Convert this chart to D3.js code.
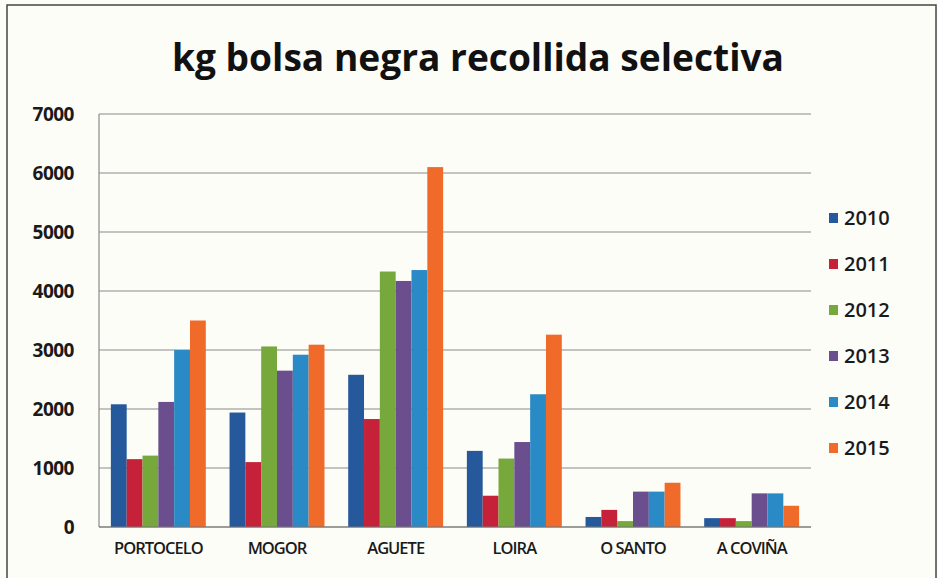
<!DOCTYPE html>
<html>
<head>
<meta charset="utf-8">
<script src="https://cdn.jsdelivr.net/npm/d3@7"></script>
<style>
  body { margin: 0; background: #fdfdf8; }
  svg { display: block; font-family: "Open Sans", "Liberation Sans", sans-serif; }
</style>
</head>
<body>
<svg id="chart"></svg>
<script>
// kg bolsa negra, por parroquia e ano
var categories = ["PORTOCELO", "MOGOR", "AGUETE", "LOIRA", "O SANTO", "A COVIÑA"];
var years = ["2010", "2011", "2012", "2013", "2014", "2015"];
var s2010 = [2080, 1940, 2580, 1290, 170, 150];
var s2011 = [1150, 1100, 1830, 530, 290, 150];
var s2012 = [1210, 3060, 4330, 1160, 100, 100];
var s2013 = [2120, 2650, 4170, 1440, 600, 570];
var s2014 = [3000, 2920, 4355, 2250, 600, 570];
var s2015 = [3500, 3090, 6100, 3260, 750, 360];
var yTicks = [0, 1000, 2000, 3000, 4000, 5000, 6000, 7000];
var colors = ["#25599c", "#c52239", "#77a83b", "#6a4e8e", "#2a8ac6", "#f06a2a"];

var series = [s2010, s2011, s2012, s2013, s2014, s2015];

var width = 938, height = 578;
var svg = d3.select("#chart").attr("width", width).attr("height", height);

// frame of the scanned sheet
svg.append("rect").attr("x", 7).attr("y", 5).attr("width", 929).attr("height", 585)
  .attr("fill", "#fdfdf8").attr("stroke", "#444").attr("stroke-width", 1.5);

var plot = {left: 99, right: 811, top: 114, bottom: 527};

var x = d3.scaleBand().domain(categories).range([plot.left, plot.right])
  .paddingInner(0.2).paddingOuter(0.1);
var xi = d3.scaleBand().domain(years).range([0, x.bandwidth()]);
var y = d3.scaleLinear().domain([0, 7000]).range([plot.bottom, plot.top]);

// gridlines
svg.append("g").selectAll("line").data(yTicks).enter().append("line")
  .attr("x1", plot.left).attr("x2", plot.right)
  .attr("y1", d => y(d)).attr("y2", d => y(d))
  .attr("stroke", "#8a8a8a").attr("stroke-width", 1.2);

// y axis labels
var yAxis = d3.axisLeft(y).tickValues(yTicks).tickFormat(d3.format("d")).tickSize(0).tickPadding(0);
var ya = svg.append("g").attr("transform", "translate(" + (plot.left - 25) + ",0)").call(yAxis);
ya.select(".domain").remove();
ya.selectAll("text").attr("font-size", 19).attr("font-weight", 700).attr("fill", "#1a1a1a")
  .attr("font-family", "'Open Sans', sans-serif").attr("letter-spacing", -0.5);

// left axis line
svg.append("line").attr("x1", plot.left).attr("x2", plot.left)
  .attr("y1", plot.top).attr("y2", plot.bottom).attr("stroke", "#8a8a8a").attr("stroke-width", 1.2);

// bars
var groups = svg.append("g").selectAll("g").data(categories).enter().append("g")
  .attr("transform", d => "translate(" + x(d) + ",0)");
groups.selectAll("rect").data((c, ci) => years.map((yr, si) => ({yr: yr, v: series[si][ci], si: si})))
  .enter().append("rect")
  .attr("x", d => xi(d.yr))
  .attr("y", d => y(d.v))
  .attr("width", xi.bandwidth())
  .attr("height", d => y(0) - y(d.v))
  .attr("fill", d => colors[d.si]);

// baseline
svg.append("line").attr("x1", plot.left).attr("x2", plot.right)
  .attr("y1", plot.bottom).attr("y2", plot.bottom).attr("stroke", "#777").attr("stroke-width", 1.2);

// x labels
var xAxis = d3.axisBottom(x).tickSize(0).tickPadding(0);
var xa = svg.append("g").attr("transform", "translate(0," + (plot.bottom + 15) + ")").call(xAxis);
xa.select(".domain").remove();
xa.selectAll("text").attr("font-size", 16.5).attr("font-weight", 600).attr("fill", "#1a1a1a")
  .attr("font-family", "'Open Sans', sans-serif").attr("letter-spacing", -1);

// title
svg.append("text").attr("x", 478).attr("y", 71).attr("text-anchor", "middle")
  .attr("font-size", 38).attr("font-weight", 700).attr("fill", "#111")
  .attr("textLength", 612).attr("lengthAdjust", "spacingAndGlyphs")
  .text("kg bolsa negra recollida selectiva");

// legend
var lg = svg.append("g").selectAll("g").data(years).enter().append("g")
  .attr("transform", (d, i) => "translate(829," + (218 + i * 46) + ")");
lg.append("rect").attr("x", 0).attr("y", -5).attr("width", 9).attr("height", 10)
  .attr("fill", (d, i) => colors[i]);
lg.append("text").attr("x", 15).attr("y", 0).attr("dy", "0.35em")
  .attr("font-size", 20).attr("font-weight", 600).attr("fill", "#1a1a1a")
  .text(d => d);
</script>
</body>
</html>
